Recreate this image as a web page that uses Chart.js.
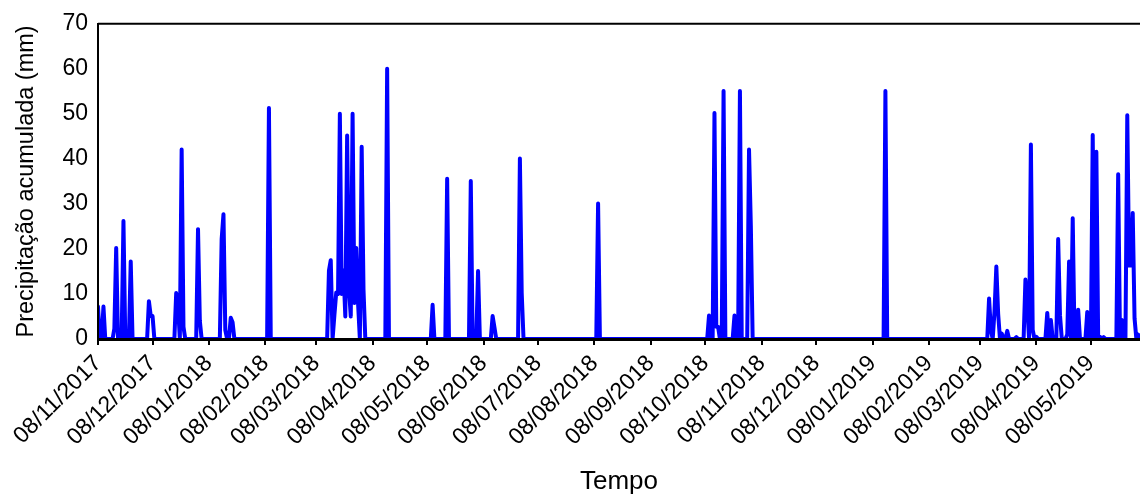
<!DOCTYPE html>
<html>
<head>
<meta charset="utf-8">
<script src="https://cdn.jsdelivr.net/npm/chart.js@4.4.1/dist/chart.umd.min.js"></script>
<style>
  html, body { margin: 0; padding: 0; background: #fff; }
  #wrap { width: 1140px; height: 497px; }
</style>
</head>
<body>
<div id="wrap"><canvas id="chart" width="1140" height="497"></canvas></div>
<script>
// Precipitação diária - dias contados a partir de 08/11/2017
const startDate = '08/11/2017';
const lastDay = 573;

const tickLabels = [
  '08/11/2017', '08/12/2017', '08/01/2018', '08/02/2018', '08/03/2018', '08/04/2018',
  '08/05/2018', '08/06/2018', '08/07/2018', '08/08/2018', '08/09/2018', '08/10/2018',
  '08/11/2018', '08/12/2018', '08/01/2019', '08/02/2019', '08/03/2019', '08/04/2019',
  '08/05/2019'
];

// dias com chuva (dia desde o início) e altura (mm)
const rainDays = [
  0, 3, 9, 10, 14, 18, 28, 29, 30, 43, 44, 46, 47, 55, 56, 68, 69, 70, 73, 74, 94,
  127, 128, 130, 131, 132, 133, 134, 135, 136, 137, 138, 139, 140, 141, 142, 143, 145, 146,
  159, 184, 192, 205, 209, 217, 218, 232, 233, 275,
  336, 339, 340, 341, 344, 350, 353, 358, 359, 433,
  490, 491, 493, 494, 495, 497, 500, 505, 510, 511, 513, 514, 516, 522, 524, 528, 529,
  533, 534, 536, 539, 544, 547, 549, 551, 553, 561, 563, 566, 567, 568, 569, 570, 572
];
const rainMm = [
  7.2, 7.2, 2.3, 20.2, 26.2, 17.2, 8.4, 5.1, 5.1, 10.2, 7.5, 42.1, 2.7, 24.4, 4, 22.2, 27.7, 2, 4.7, 3.7, 51.3,
  15.2, 17.5, 5.3, 10.3, 10, 50, 10, 15.2, 5, 45.2, 11.2, 5, 50, 8, 20.2, 8, 42.7, 11,
  60, 7.6, 35.6, 35.1, 15.1, 5.1, 2.6, 40.1, 10.2, 30.1,
  5.2, 50.2, 2.7, 2.7, 55.1, 5.2, 55.1, 42.1, 25.1, 55.1,
  9, 2, 6.2, 16.1, 5.6, 1.2, 1.8, 0.4, 13.2, 7.5, 43.2, 2, 0.5, 5.8, 4.2, 22.2, 5.3,
  1, 17.2, 26.8, 6.5, 6, 45.3, 41.6, 0.5, 0.4, 36.6, 4.2, 49.7, 16.3, 16.3, 28, 4.6, 1
];

function dayOf(s) {
  const [d, m, y] = s.split('/').map(Number);
  const [d0, m0, y0] = startDate.split('/').map(Number);
  return Math.round((Date.UTC(y, m - 1, d) - Date.UTC(y0, m0 - 1, d0)) / 86400000);
}
const tickDays = tickLabels.map(dayOf);

const rainByDay = {};
rainDays.forEach((d, i) => { rainByDay[d] = rainMm[i]; });
const points = [];
for (let d = 0; d <= lastDay; d++) points.push({ x: d, y: rainByDay[d] || 0 });

const font = 'Arial, "Liberation Sans", sans-serif';

const topFrame = {
  id: 'topFrame',
  afterDraw(chart) {
    const { ctx, chartArea: a } = chart;
    ctx.save();
    ctx.strokeStyle = '#000';
    ctx.lineWidth = 2;
    ctx.beginPath();
    ctx.moveTo(a.left, a.top);
    ctx.lineTo(a.right, a.top);
    ctx.stroke();
    ctx.restore();
  }
};

new Chart(document.getElementById('chart'), {
  type: 'line',
  data: {
    datasets: [{
      data: points,
      borderColor: '#0000FF',
      borderWidth: 4,
      borderJoinStyle: 'round',
      borderCapStyle: 'round',
      pointRadius: 0,
      tension: 0,
      fill: false,
      clip: { left: 0, right: 0, top: 5, bottom: 0 }
    }]
  },
  options: {
    responsive: false,
    animation: false,
    devicePixelRatio: 1,
    layout: { padding: { top: 21, right: 0, bottom: 0, left: 0 } },
    plugins: { legend: { display: false }, tooltip: { enabled: false } },
    scales: {
      x: {
        type: 'linear',
        min: 0,
        max: lastDay,
        afterBuildTicks: s => { s.ticks = tickDays.map(v => ({ value: v })); },
        afterFit: s => { s.height = 158; },
        ticks: {
          autoSkip: false,
          maxRotation: 45,
          minRotation: 45,
          padding: 5,
          color: '#000',
          font: { family: font, size: 23 },
          callback: v => tickLabels[tickDays.indexOf(v)]
        },
        grid: { display: true, drawOnChartArea: false, drawTicks: true, tickLength: 6, color: '#000', lineWidth: 2, z: 1 },
        border: { display: true, color: '#000', width: 3, z: 1 },
        title: { display: true, text: 'Tempo', color: '#000', font: { family: font, size: 26 }, padding: { top: 0, bottom: 0 } }
      },
      y: {
        min: 0,
        max: 70,
        afterFit: s => { s.width = 98; },
        ticks: { stepSize: 10, padding: 10, color: '#000', font: { family: font, size: 23 } },
        grid: { display: false, drawTicks: false },
        border: { display: true, color: '#000', width: 2, z: 1 },
        title: { display: true, text: 'Precipitação acumulada (mm)', color: '#000', font: { family: font, size: 23.5 }, padding: { top: 12, bottom: 0 } }
      }
    }
  },
  plugins: [topFrame]
});
</script>
</body>
</html>
